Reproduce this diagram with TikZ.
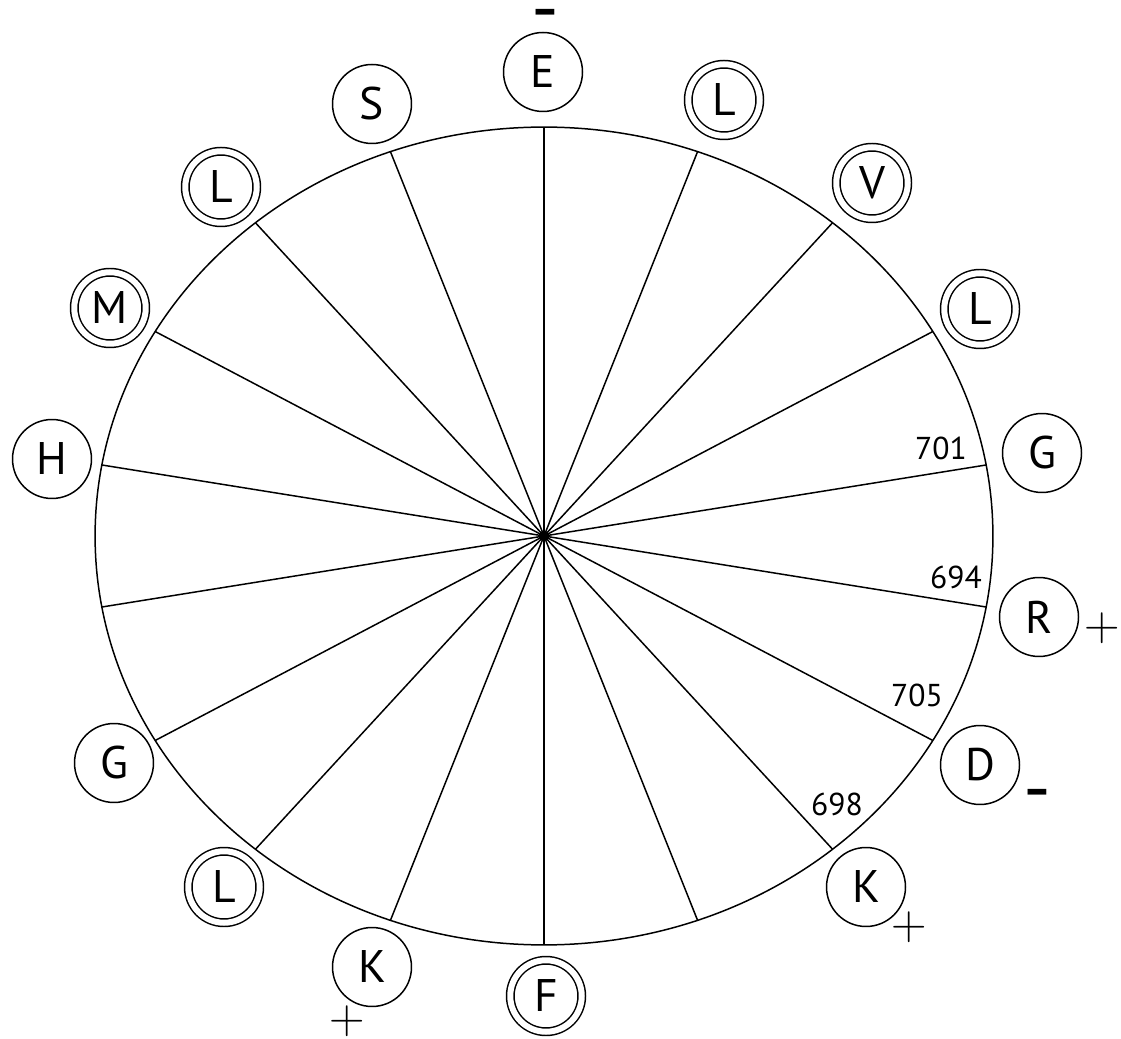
\RequirePackage{fix-cm}
\documentclass[tikz,border=0pt]{standalone}
\usepackage{fontspec}
\setmainfont{PT Sans}

\begin{document}
\begin{tikzpicture}[x=0.02cm, y=0.02cm, line width=0.85pt,
  res/.style={circle, draw, minimum size=1.58cm, inner sep=0pt, font=\fontsize{26}{30}\selectfont},
  dres/.style={res, minimum size=1.43cm, double, double distance=0.12cm},
  num/.style={inner sep=0pt, font=\fontsize{18}{21}\selectfont},
  plussign/.style={inner sep=0pt, font=\fontsize{28}{32}\selectfont},
  minussign/.style={inner sep=0pt, text height=25pt, text depth=-10pt, font=\fontsize{44}{48}\selectfont}]

\useasboundingbox (0,0) rectangle (1121,1038);

% Wheel
\node[circle, fill=black, minimum size=0.22cm, inner sep=0pt] (ctr) at (544,502) {};
\draw (ctr.center) ellipse [x radius=8.98cm, y radius=8.18cm];
\foreach \a in {10,30,...,350} {
  \coordinate (sp\a) at ([shift={(\a:8.98cm and 8.18cm)}]ctr.center);
  \draw (ctr.center) -- (sp\a);
}

% Residues
\node[res]  (e)  at (543,966)  {E};
\node[dres] (l1) at (724,938)  {L};
\node[dres] (v)  at (872,855)  {V};
\node[dres] (l2) at (980,729)  {L};
\node[res]  (g1) at (1042,585) {G};
\node[res]  (r)  at (1039,421) {R};
\node[res]  (d)  at (980,273)  {D};
\node[res]  (k1) at (866,151)  {K};
\node[dres] (f)  at (546,42)   {F};
\node[res]  (k2) at (372,71)   {K};
\node[dres] (l3) at (224,151)  {L};
\node[res]  (g2) at (114,275)  {G};
\node[res]  (h)  at (52,579)   {H};
\node[dres] (m)  at (110,730)  {M};
\node[dres] (l4) at (221,851)  {L};
\node[res]  (s)  at (372,934)  {S};

% Numbers
\node[num] (n701) at (941,590) {701};
\node[num] (n694) at (956,461) {694};
\node[num] (n705) at (917,343) {705};
\node[num] (n698) at (837,234) {698};

% Charges
\node[minussign] (qe)  at (545,1025) {-};
\node[plussign]  (qr)  at (1102,410) {$+$};
\node[minussign] (qd)  at (1037,245) {-};
\node[plussign]  (qk1) at (909,111)  {$+$};
\node[plussign]  (qk2) at (347,17)   {$+$};

\end{tikzpicture}
\end{document}
